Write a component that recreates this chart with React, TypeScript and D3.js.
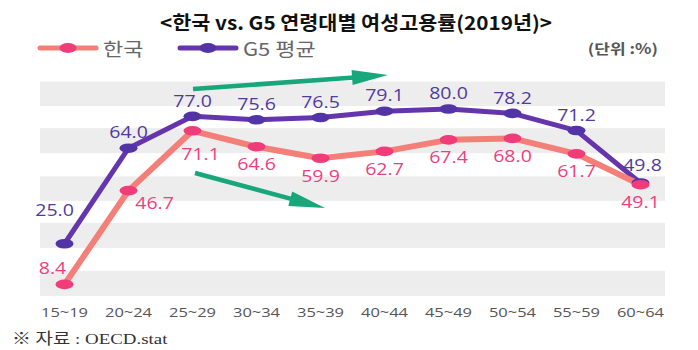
import { useRef, useEffect } from "react";
import * as d3 from "d3";

const ageGroups = ["15~19", "20~24", "25~29", "30~34", "35~39", "40~44", "45~49", "50~54", "55~59", "60~64"];
const korea = [8.4, 46.7, 71.1, 64.6, 59.9, 62.7, 67.4, 68.0, 61.7, 49.1];
const g5 = [25.0, 64.0, 77.0, 75.6, 76.5, 79.1, 80.0, 78.2, 71.2, 49.8];
// alternating grey bands, in value units
const bandLow = [3.7, 23.3, 42.5, 62, 81.2];
const bandHigh = [13.9, 33.5, 52.5, 72.2, 91.2];

const TITLE = "<한국 vs. G5 연령대별 여성고용률(2019년)>";
const SOURCE = "※ 자료 : OECD.stat";

export default function App() {
  const svgRef = useRef<SVGSVGElement | null>(null);

  useEffect(() => {
    const width = 698;
    const height = 350;
    const svg = d3.select(svgRef.current);
    svg.selectAll("*").remove();

    const sx = 1.22; // the source image is stretched horizontally
    const font = "'Open Sans', 'Noto Sans CJK KR', sans-serif";

    const x = d3.scalePoint<string>().domain(ageGroups).range([40, 665]).padding(0.383);
    const y = d3.scaleLinear().domain([0, 100]).range([305, 60]);

    const addText = (
      parent: d3.Selection<any, any, any, any>,
      tx: number,
      ty: number,
      str: string,
      fill: string,
      size: number,
      anchor = "middle",
      weight = "normal",
      fam = font
    ) =>
      parent
        .append("text")
        .attr("transform", `translate(${tx},${ty}) scale(${sx},1)`)
        .attr("text-anchor", anchor)
        .attr("dominant-baseline", "central")
        .attr("fill", fill)
        .attr("font-size", size)
        .attr("font-weight", weight)
        .attr("font-family", fam)
        .text(str);

    // Title
    svg
      .append("text")
      .attr("x", 160)
      .attr("y", 30)
      .attr("textLength", 392)
      .attr("lengthAdjust", "spacingAndGlyphs")
      .attr("fill", "#111")
      .attr("font-size", 19)
      .attr("font-weight", "bold")
      .attr("font-family", "'Noto Sans CJK KR', sans-serif")
      .text(TITLE);

    // Legend
    const legend = [
      { name: "한국", line: "#f47f78", dot: "#f03c78", x0: 40 },
      { name: "G5 평균", line: "#6535ad", dot: "#5334a6", x0: 180 },
    ];
    legend.forEach((l) => {
      svg.append("line")
        .attr("x1", l.x0).attr("x2", l.x0 + 56)
        .attr("y1", 48).attr("y2", 48)
        .attr("stroke", l.line).attr("stroke-width", 5).attr("stroke-linecap", "round");
      svg.append("ellipse")
        .attr("cx", l.x0 + 28).attr("cy", 48)
        .attr("rx", 8.5).attr("ry", 5)
        .attr("fill", l.dot);
      addText(svg, l.x0 + 63, 48, l.name, "#666", 18, "start", "normal", "'Noto Sans CJK KR', sans-serif");
    });
    addText(svg, 658, 48, "(단위 :%)", "#555", 14, "end", "bold", "'Noto Sans CJK KR', sans-serif");

    // Bands
    svg.append("g")
      .selectAll("rect")
      .data(bandLow)
      .enter()
      .append("rect")
      .attr("x", 40)
      .attr("width", 625)
      .attr("y", (d, i) => y(bandHigh[i]))
      .attr("height", (d, i) => y(d) - y(bandHigh[i]))
      .attr("fill", "#ededed");

    // Arrows
    const arrow = (x1: number, y1: number, x2: number, y2: number) => {
      const ang = Math.atan2(y2 - y1, x2 - x1);
      const hl = 36;
      const hw = 7.5;
      const bx = x2 - hl * Math.cos(ang);
      const by = y2 - hl * Math.sin(ang);
      const px = -Math.sin(ang);
      const py = Math.cos(ang);
      svg.append("line")
        .attr("x1", x1).attr("y1", y1)
        .attr("x2", bx + 2 * Math.cos(ang)).attr("y2", by + 2 * Math.sin(ang))
        .attr("stroke", "#18a67b").attr("stroke-width", 4.5);
      svg.append("path")
        .attr("d", `M${x2},${y2}L${bx + px * hw},${by + py * hw}L${bx - px * hw},${by - py * hw}Z`)
        .attr("fill", "#18a67b");
    };
    arrow(193, 89, 388, 75);
    arrow(195, 173, 325, 208);

    const lineGen = d3
      .line<number>()
      .x((_, i) => x(ageGroups[i]) as number)
      .y((d) => y(d));

    const series = [
      { values: g5, line: "#6535ad", dot: "#5334a6", text: "#4f3a9e", w: 5, above: true },
      { values: korea, line: "#f47f78", dot: "#f03c78", text: "#ee3e7e", w: 6, above: false },
    ];

    series.forEach((s) => {
      svg.append("path")
        .attr("d", lineGen(s.values))
        .attr("fill", "none")
        .attr("stroke", s.line)
        .attr("stroke-width", s.w)
        .attr("stroke-linejoin", "round");
    });
    series.forEach((s) => {
      svg.append("g")
        .selectAll("ellipse")
        .data(s.values)
        .enter()
        .append("ellipse")
        .attr("cx", (_, i) => x(ageGroups[i]) as number)
        .attr("cy", (d) => y(d))
        .attr("rx", 9)
        .attr("ry", 4.8)
        .attr("fill", s.dot);
    });

    // value labels; a few are nudged like in the original
    const nudgeG5: Record<number, [number, number]> = { 0: [-10, -34], 9: [2, -18] };
    const nudgeKr: Record<number, [number, number]> = { 0: [-12, -17], 1: [26, 12], 2: [8, 23] };
    series.forEach((s) => {
      const nudge = s.above ? nudgeG5 : nudgeKr;
      s.values.forEach((v, i) => {
        const [dx, dy] = nudge[i] ?? [0, s.above ? -16 : 17];
        addText(svg, (x(ageGroups[i]) as number) + dx, y(v) + dy, v.toFixed(1), s.text, 16);
      });
    });

    // X axis labels
    ageGroups.forEach((a) => {
      addText(svg, x(a) as number, 312, a, "#555", 13.5);
    });

    // Source
    addText(svg, 12, 339, SOURCE, "#333", 15.5, "start", "normal", "'Liberation Serif', 'Noto Sans CJK KR', serif");

    svg.attr("width", width).attr("height", height);
  }, []);

  return (
    <div style={{ position: "absolute", left: 0, top: 0, background: "#fff" }}>
      <svg ref={svgRef} width={698} height={350} style={{ display: "block" }} />
    </div>
  );
}
